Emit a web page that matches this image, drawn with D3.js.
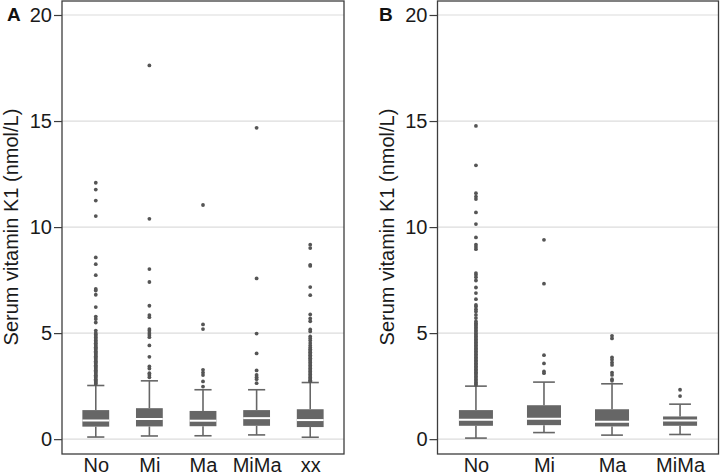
<!DOCTYPE html>
<html><head><meta charset="utf-8">
<script src="https://cdn.jsdelivr.net/npm/d3@7"></script>
<style>body{margin:0;background:#fff}svg{display:block}text{font-family:Arial,"Liberation Sans",sans-serif}</style>
</head><body><svg id="c" width="720" height="475"></svg>
<script>
const catsA = ["No","Mi","Ma","MiMa","xx"];
const catsB = ["No","Mi","Ma","MiMa"];
const yTicks = [0,5,10,15,20];
// box stats: [lowerWhisker, q1, median, q3, upperWhisker]
const boxA = [
  [0.10,0.59,0.88,1.37,2.53],
  [0.15,0.60,0.95,1.46,2.75],
  [0.16,0.61,0.87,1.33,2.33],
  [0.20,0.63,0.99,1.37,2.33],
  [0.09,0.57,0.90,1.41,2.67]
];
const boxB = [
  [0.05,0.63,0.91,1.37,2.50],
  [0.31,0.66,0.96,1.60,2.69],
  [0.19,0.60,0.82,1.41,2.61],
  [0.22,0.63,0.88,1.07,1.65]
];
const outA = [
  [12.09,11.77,11.25,10.52,8.57,8.25,7.73,7.08,7.01,6.81,6.23,5.78,5.66,5.50,5.12,5.00,4.93,4.86,4.79,4.72,4.65,4.58,4.52,4.45,4.39,4.33,4.27,4.21,4.15,4.09,4.03,3.97,3.91,3.85,3.79,3.73,3.67,3.61,3.55,3.49,3.43,3.37,3.31,3.25,3.19,3.13,3.07,3.01,2.95,2.89,2.83,2.77,2.71,2.65,2.60],
  [17.62,10.39,8.02,7.41,6.29,5.85,5.75,5.19,5.11,5.00,4.91,4.81,4.42,3.88,3.43,3.33,3.11,3.03,2.92],
  [11.04,5.41,5.19,3.27,3.14,3.02,2.72,2.48],
  [14.68,7.58,4.98,4.04,3.24,3.03,2.92,2.83,2.64],
  [9.17,9.01,8.22,8.17,7.17,6.79,5.88,5.69,5.56,5.17,5.08,4.84,4.75,4.65,4.53,4.42,4.32,4.24,4.17,4.10,4.03,3.96,3.89,3.82,3.75,3.68,3.61,3.54,3.47,3.40,3.33,3.26,3.19,3.12,3.05,2.98,2.91,2.85,2.78,2.73]
];
const outB = [
  [14.77,12.91,11.60,11.44,11.32,10.69,10.14,9.51,9.17,9.06,8.96,7.83,7.75,7.64,7.48,7.15,6.89,6.60,6.33,6.26,6.13,6.02,5.86,5.71,5.55,5.47,5.40,5.33,5.26,5.19,5.12,5.05,4.98,4.91,4.84,4.77,4.70,4.63,4.56,4.49,4.42,4.35,4.28,4.21,4.14,4.07,4.00,3.93,3.86,3.79,3.72,3.65,3.58,3.51,3.44,3.37,3.30,3.23,3.16,3.09,3.02,2.95,2.88,2.81,2.74,2.67,2.60,2.55],
  [9.40,7.33,3.96,3.57,3.19,3.11],
  [4.87,4.75,3.85,3.74,3.61,3.50,3.14,3.03,2.83,2.75],
  [2.33,2.03]
];

const svg = d3.select("#c");
const y = d3.scaleLinear().domain([-0.7,20.66]).range([454,1]);
const FONT = 20, DARK="#3d3d3d", BOX="#666666", DOT="#555555";

function panel(cats, boxes, outs, x0, x1, pad, letter, letterX, titleX){
  const x = d3.scalePoint().domain(cats).range([x0,x1]).padding(pad);
  const step = x.step();
  const g = svg.append("g");
  g.selectAll(".grid").data(yTicks).join("line")
    .attr("x1",x0).attr("x2",x1).attr("y1",d=>y(d)).attr("y2",d=>y(d))
    .attr("stroke","#dcdcdc").attr("stroke-width",1.2);
  const ax = g.append("g").attr("transform",`translate(${x0},0)`)
    .call(d3.axisLeft(y).tickValues(yTicks).tickSize(8).tickPadding(2));
  ax.select(".domain").remove();
  ax.selectAll("line").attr("stroke",DARK).attr("stroke-width",1.2);
  ax.selectAll("text").attr("font-size",FONT).attr("fill","#1a1a1a").attr("font-family","Arial, 'Liberation Sans', sans-serif");
  const bx = g.append("g").attr("transform",`translate(0,454)`)
    .call(d3.axisBottom(x).tickSize(0).tickPadding(4));
  bx.select(".domain").remove();
  bx.selectAll("text").attr("font-size",FONT).attr("fill","#1a1a1a").attr("dy","0.72em").attr("font-family","Arial, 'Liberation Sans', sans-serif");
  const bw = step*0.5, cw = step*0.32;
  cats.forEach((c,i)=>{
    const b = boxes[i], cx = x(c);
    const gg = g.append("g");
    gg.append("line").attr("x1",cx).attr("x2",cx).attr("y1",y(b[0])).attr("y2",y(b[1])).attr("stroke",BOX).attr("stroke-width",1.6);
    gg.append("line").attr("x1",cx).attr("x2",cx).attr("y1",y(b[3])).attr("y2",y(b[4])).attr("stroke",BOX).attr("stroke-width",1.6);
    gg.append("line").attr("x1",cx-cw/2).attr("x2",cx+cw/2).attr("y1",y(b[0])).attr("y2",y(b[0])).attr("stroke",BOX).attr("stroke-width",1.6);
    gg.append("line").attr("x1",cx-cw/2).attr("x2",cx+cw/2).attr("y1",y(b[4])).attr("y2",y(b[4])).attr("stroke",BOX).attr("stroke-width",1.6);
    gg.append("rect").attr("x",cx-bw/2).attr("width",bw).attr("y",y(b[3])).attr("height",y(b[1])-y(b[3])).attr("fill",BOX);
    gg.append("line").attr("x1",cx-bw/2).attr("x2",cx+bw/2).attr("y1",y(b[2])).attr("y2",y(b[2])).attr("stroke","#fff").attr("stroke-width",2);
    gg.selectAll("circle").data(outs[i]).join("circle")
      .attr("cx",cx).attr("cy",d=>y(d)).attr("r",1.9).attr("fill",DOT);
  });
  g.append("rect").attr("x",x0).attr("y",1).attr("width",x1-x0).attr("height",453)
    .attr("fill","none").attr("stroke",DARK).attr("stroke-width",1.3);
  g.append("text").attr("x",letterX).attr("y",21).attr("font-size",19).attr("font-weight","bold").attr("fill","#111").text(letter);
  g.append("text").attr("transform",`translate(${titleX},227) rotate(-90)`).attr("text-anchor","middle")
    .attr("font-size",FONT).attr("fill","#1a1a1a").text("Serum vitamin K1 (nmol/L)");
}
panel(catsA, boxA, outA, 62, 344, 0.63, "A", 7, 18);
panel(catsB, boxB, outB, 437.5, 718.5, 0.565, "B", 379, 394);
</script></body></html>
